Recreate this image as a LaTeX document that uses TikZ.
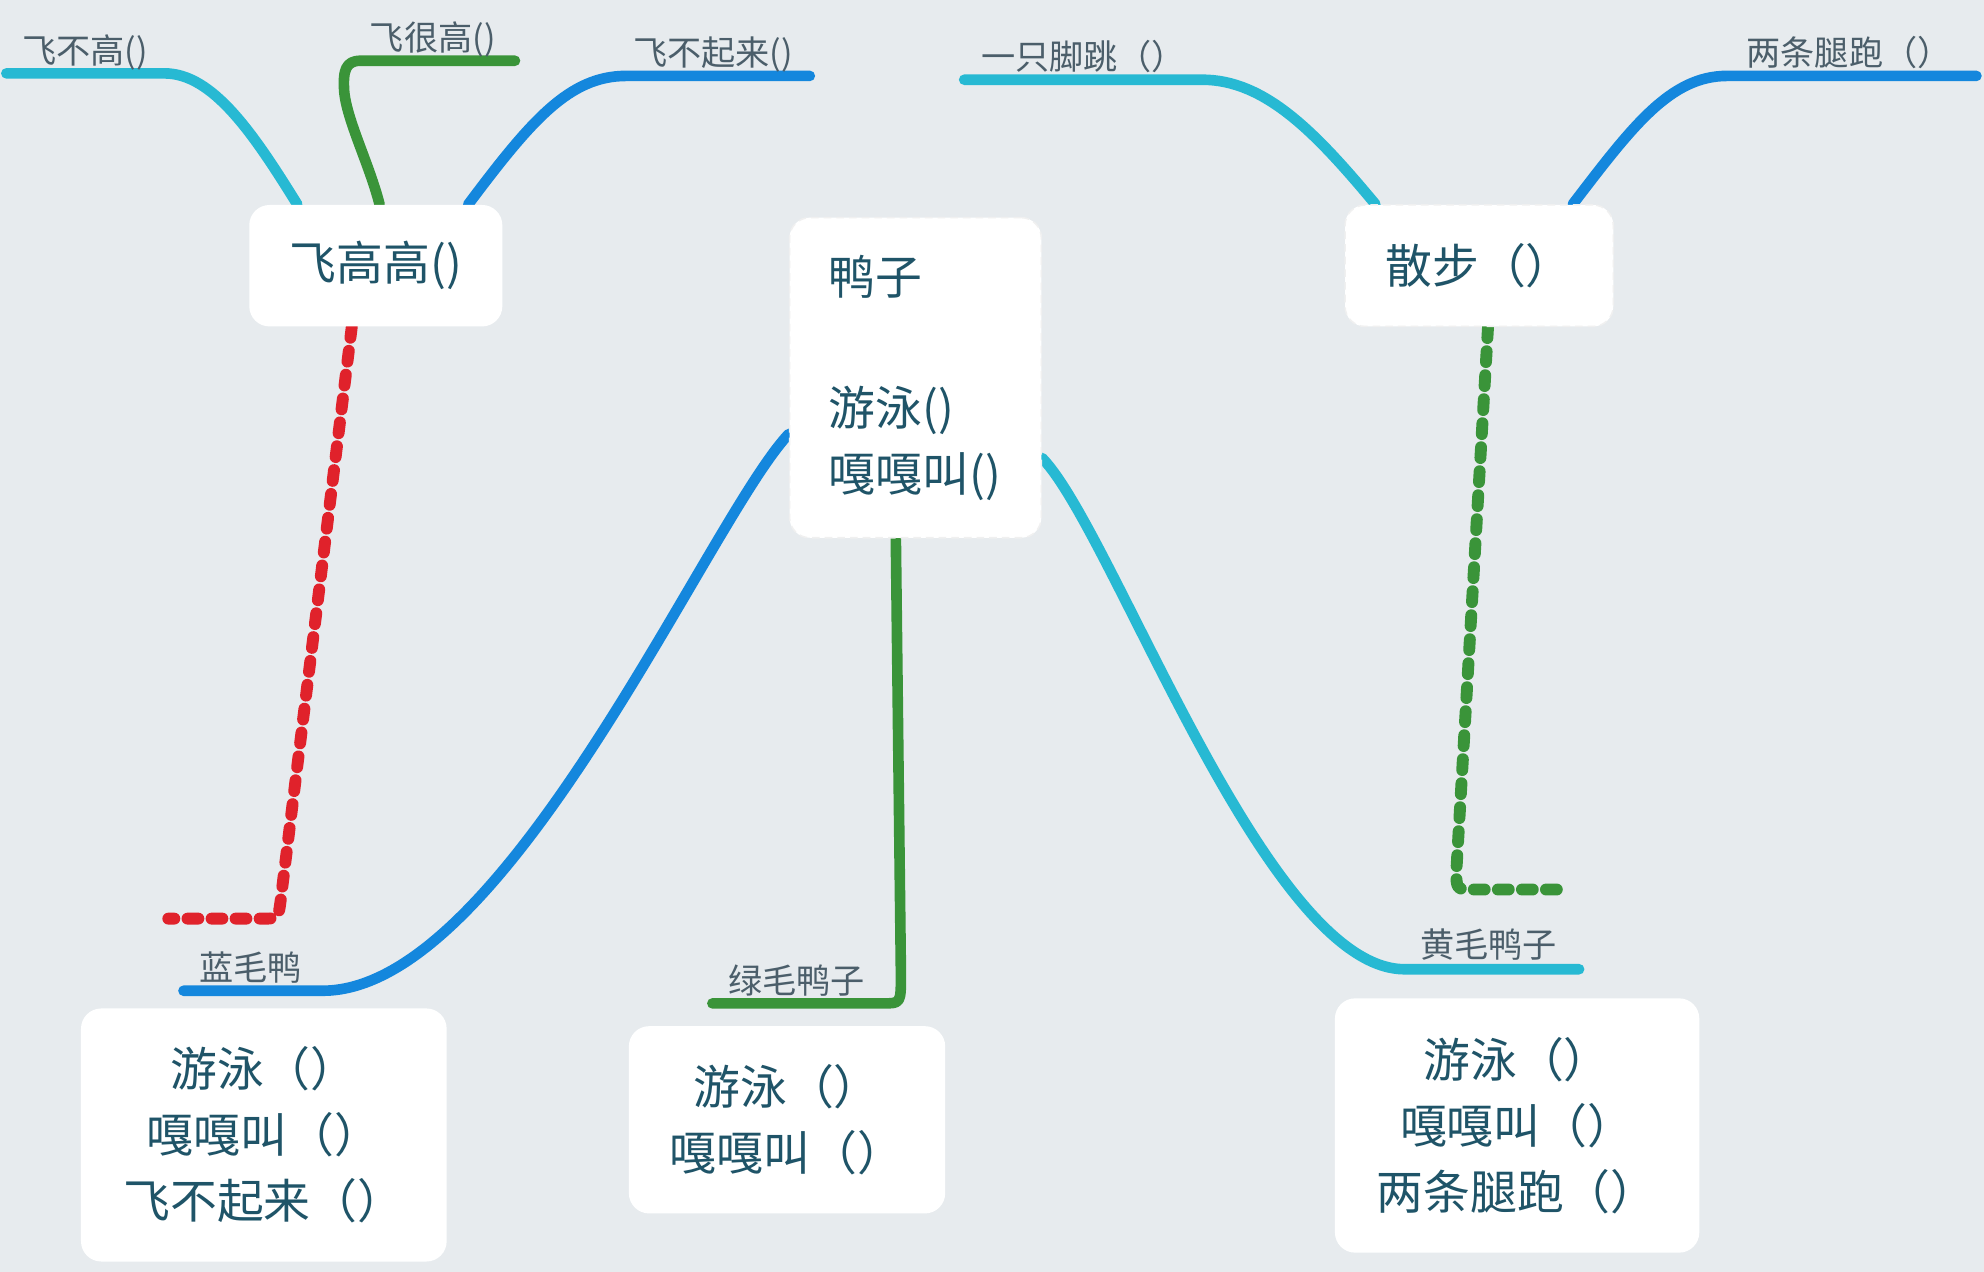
\documentclass[tikz,border=0pt]{standalone}
\usepackage{fontspec}
\setmainfont{Noto Sans CJK SC}
\definecolor{bgc}{HTML}{E7EBEE}
\definecolor{boxtext}{HTML}{1F5468}
\definecolor{labtext}{HTML}{4B5E6A}
\definecolor{cyanl}{HTML}{27B9D3}
\definecolor{bluel}{HTML}{1487DD}
\definecolor{greenl}{HTML}{3A9439}
\definecolor{redl}{HTML}{E0222B}
\pgfdeclarelayer{bglayer}
\pgfdeclarelayer{linelayer}
\pgfsetlayers{bglayer,linelayer,main}
\tikzset{
  boxnode/.style={fill=white, rounded corners=8pt, inner sep=0pt, text=boxtext,
    font=\fontsize{18.5}{26}\selectfont, align=center},
  dashbox/.style={boxnode, draw=black!6, densely dashed, line width=0.6pt},
  labnode/.style={text=labtext, font=\fontsize{13.5}{16}\selectfont, inner sep=0pt, anchor=base west},
  branch/.style={line width=4.2pt, line cap=round, line join=round},
  dashbranch/.style={branch, line width=4.7pt, dash pattern=on 4.3pt off 5.2pt}
}
\begin{document}
\begin{tikzpicture}[x=0.5pt,y=-0.5pt]
\begin{pgfonlayer}{bglayer}
\fill[bgc] (0,0) rectangle (1568,1005);
\end{pgfonlayer}
\useasboundingbox (0,0) rectangle (1568,1005);

% boxes
\node[boxnode, minimum width=100pt, minimum height=48pt] (fgg) at (297,210) {飞高高()};
\node[dashbox, minimum width=99.5pt, minimum height=126.5pt, text width=68.5pt, inner xsep=15.5pt, align=left] (duck) at (723.5,298.5) {鸭子\\ \mbox{}\\ 游泳()\\ 嘎嘎叫()};
\node[dashbox, minimum width=106pt, minimum height=48pt] (walk) at (1169,210) {散步（）};
\node[boxnode, minimum width=144.5pt, minimum height=100pt] (blue) at (208.5,897) {游泳（）\\ 嘎嘎叫（）\\ 飞不起来（）};
\node[boxnode, minimum width=125pt, minimum height=74pt] (green) at (622,885) {游泳（）\\ 嘎嘎叫（）};
\node[boxnode, minimum width=144pt, minimum height=100.5pt] (yellow) at (1199,889.5) {游泳（）\\ 嘎嘎叫（）\\ 两条腿跑（）};

% labels
\node[labnode] (l1) at (17,50) {飞不高()};
\node[labnode] (l2) at (292,40) {飞很高()};
\node[labnode] (l3) at (500,52) {飞不起来()};
\node[labnode] (l4) at (775,55) {一只脚跳（）};
\node[labnode] (l5) at (1380,52) {两条腿跑（）};
\node[labnode] (l6) at (157,775) {蓝毛鸭};
\node[labnode] (l7) at (575,785) {绿毛鸭子};
\node[labnode] (l8) at (1122,757) {黄毛鸭子};

% end coordinates
\coordinate (e1) at (5,58);
\coordinate (e2) at (407,48);
\coordinate (e3) at (640,60);
\coordinate (e4) at (133,726);
\coordinate (e5) at (145,783);
\coordinate (e6) at (563,793);
\coordinate (e7) at (1248,766);
\coordinate (e8) at (762,63);
\coordinate (e9) at (1562,60);
\coordinate (e10) at (1240,703);

\begin{pgfonlayer}{linelayer}
\draw[branch, cyanl] ([xshift=-31pt]fgg.north) .. controls (200,105) and (168,58) .. (130,58) -- (e1);
\draw[branch, greenl] ([xshift=1.5pt]fgg.north) .. controls (292,130) and (274,95) .. (272,72) .. controls (271,56) and (273,48) .. (285,48) -- (e2);
\draw[branch, bluel] ([xshift=36.5pt]fgg.north) .. controls (420,95) and (450,60) .. (495,60) -- (e3);
\draw[dashbranch, redl] ([xshift=-9.5pt]fgg.south) -- (222,710) .. controls (220,726) .. (208,726) -- (e4);
\draw[branch, bluel] (duck.west |- 0,343) .. controls (560,410) and (400,783) .. (255,783) -- (e5);
\draw[branch, greenl] ([xshift=-7.75pt]duck.south) -- (712,770) .. controls (712,793) .. (698,793) -- (e6);
\draw[branch, cyanl] (duck.east |- 0,362) .. controls (880,420) and (1000,766) .. (1110,766) -- (e7);
\draw[branch, cyanl] ([xshift=-41pt]walk.north) .. controls (1040,105) and (1000,63) .. (950,63) -- (e8);
\draw[branch, bluel] ([xshift=37pt]walk.north) .. controls (1290,100) and (1320,60) .. (1365,60) -- (e9);
\draw[dashbranch, greenl] ([xshift=3.5pt]walk.south) -- (1151,688) .. controls (1151,703) .. (1165,703) -- (e10);
\end{pgfonlayer}
\end{tikzpicture}
\end{document}
